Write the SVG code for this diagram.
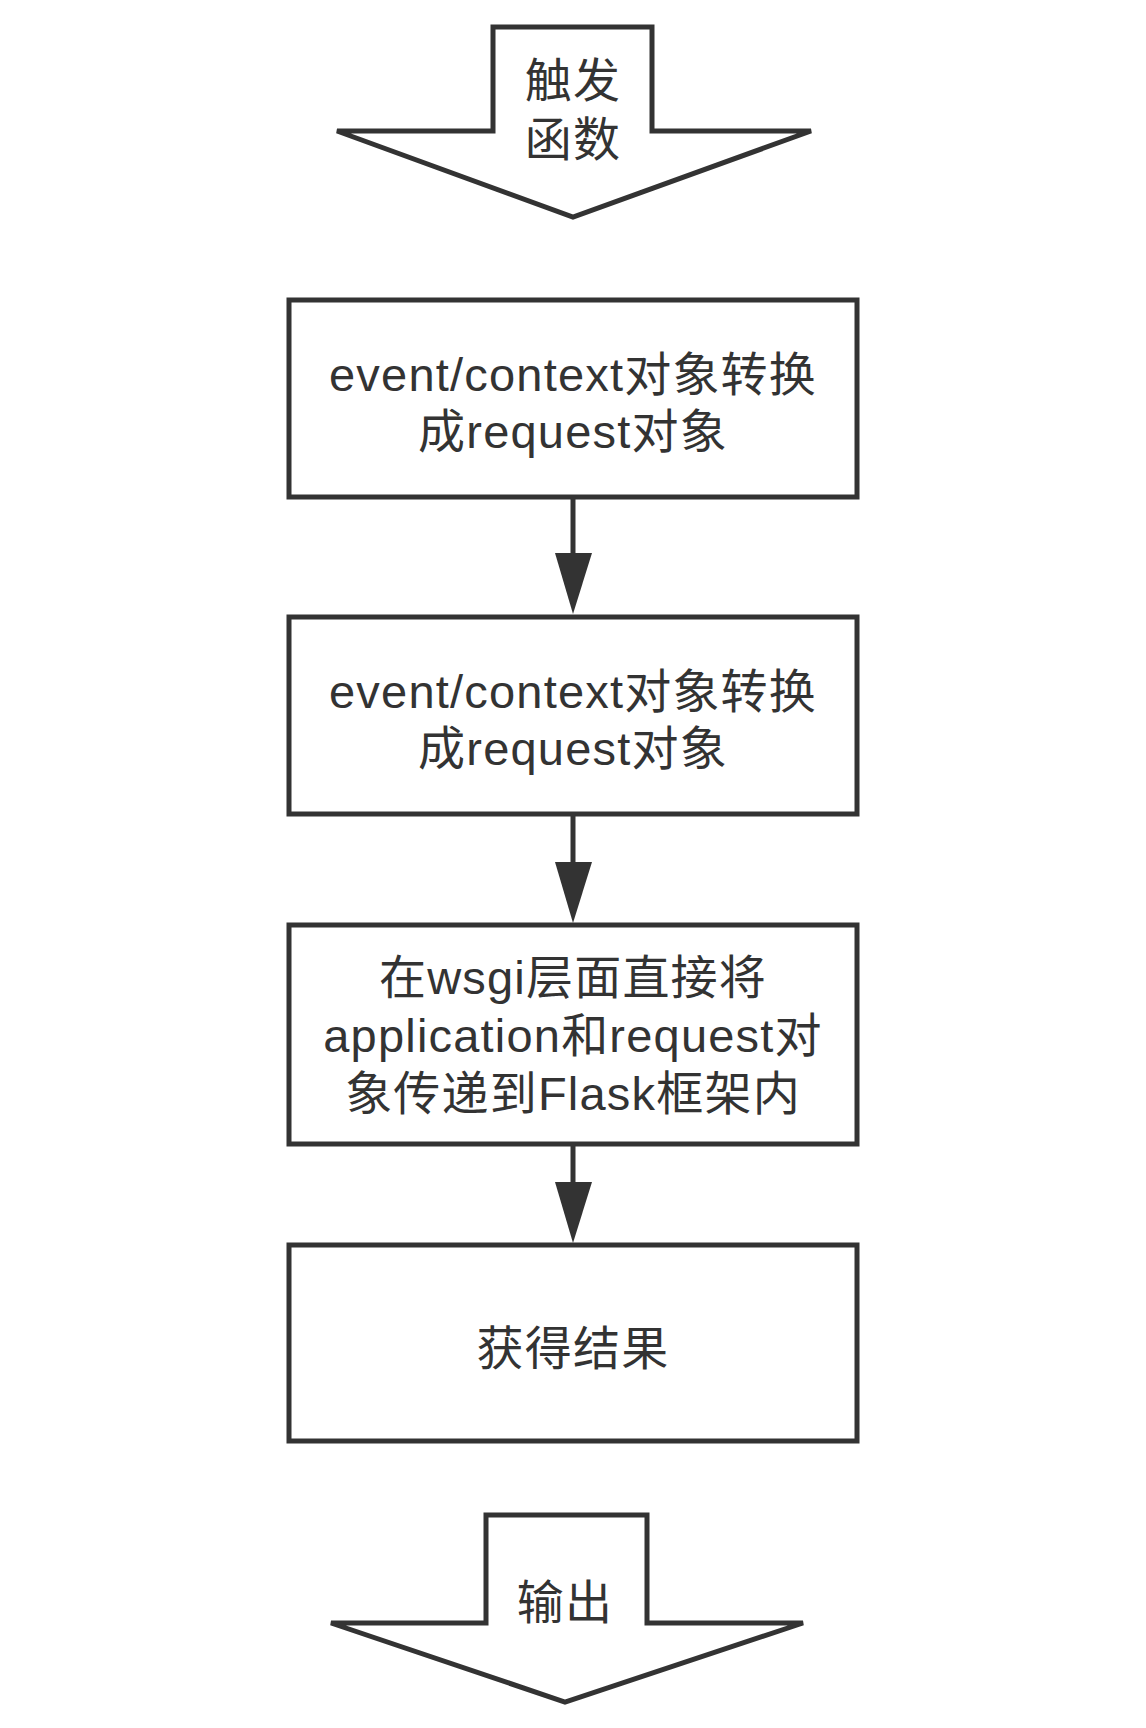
<svg xmlns="http://www.w3.org/2000/svg" width="1146" height="1728" viewBox="0 0 1146 1728">
<style>
.shape{fill:#fff;stroke:#333;stroke-width:5;stroke-linejoin:miter}
.t{font-family:"Liberation Sans","Noto Sans CJK SC",sans-serif;font-size:47px;letter-spacing:1.2px;fill:#333;text-anchor:middle;dominant-baseline:central}
.conn{stroke:#333;stroke-width:5;fill:none}
.head{fill:#333}
</style>
<rect width="1146" height="1728" fill="#fff"/>
<g id="start">
<polygon class="shape" points="493,27 652,27 652,131 811,131 573,217 337,131 493,131"/>
<text class="t"><tspan x="573" y="80">触发</tspan><tspan x="573" y="139">函数</tspan></text>
</g>
<g id="box1">
<rect class="shape" x="289" y="300" width="568" height="197"/>
<text class="t"><tspan x="573" y="374">event/context对象转换</tspan><tspan x="573" y="431">成request对象</tspan></text>
</g>
<g id="box2">
<rect class="shape" x="289" y="617" width="568" height="197"/>
<text class="t"><tspan x="573" y="691">event/context对象转换</tspan><tspan x="573" y="748">成request对象</tspan></text>
</g>
<g id="box3">
<rect class="shape" x="289" y="925" width="568" height="219"/>
<text class="t"><tspan x="573" y="977">在wsgi层面直接将</tspan><tspan x="573" y="1035">application和request对</tspan><tspan x="573" y="1093">象传递到Flask框架内</tspan></text>
</g>
<g id="box4">
<rect class="shape" x="289" y="1245" width="568" height="196"/>
<text class="t" x="573" y="1348">获得结果</text>
</g>
<g id="end">
<polygon class="shape" points="486,1515 647,1515 647,1623 803,1623 565,1702 331,1623 486,1623"/>
<text class="t" x="565" y="1602">输出</text>
</g>
<g id="connectors">
<line class="conn" x1="573" y1="497" x2="573" y2="560"/>
<polygon class="head" points="555,553 592,553 573,614"/>
<line class="conn" x1="573" y1="814" x2="573" y2="870"/>
<polygon class="head" points="555,862 592,862 573,923"/>
<line class="conn" x1="573" y1="1144" x2="573" y2="1190"/>
<polygon class="head" points="555,1182 592,1182 573,1243"/>
</g>
</svg>
